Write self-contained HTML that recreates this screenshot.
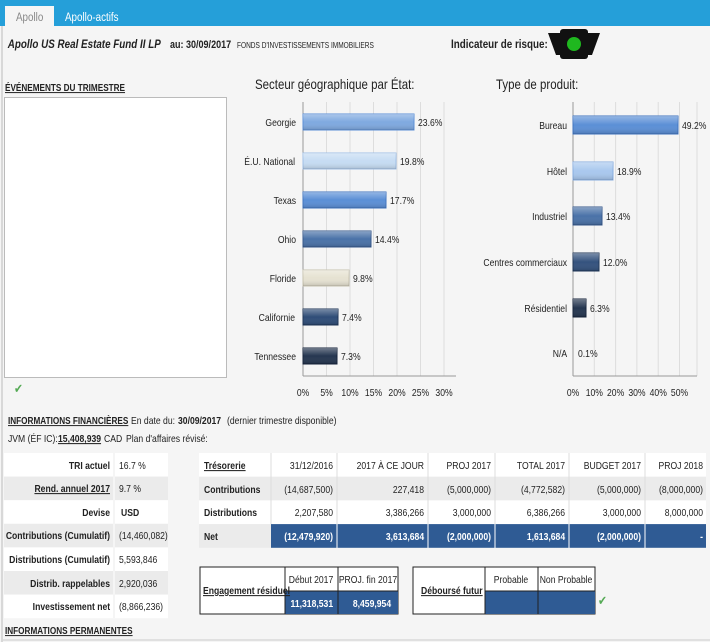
<!DOCTYPE html>
<html><head><meta charset="utf-8"><style>
body{margin:0;background:#f5f5f5;}
svg{display:block;font-family:"Liberation Sans",sans-serif;}
text{font-size:10.5px;fill:#222;transform-box:fill-box;transform-origin:left center;transform:scaleX(.82)}
text.r{text-anchor:end;transform-origin:right center}
text.m{text-anchor:middle;transform-origin:center center}
.b{font-weight:bold}
.w{fill:#fff;font-weight:bold}
</style></head><body>
<svg width="710" height="642" viewBox="0 0 710 642">
<defs>
<linearGradient id="g" x1="0" y1="0" x2="0" y2="1"><stop offset="0" stop-color="#fff" stop-opacity=".35"/><stop offset=".5" stop-color="#fff" stop-opacity="0"/><stop offset="1" stop-color="#000" stop-opacity=".15"/></linearGradient>
</defs>
<rect x="0" y="0" width="710" height="642" fill="#f5f5f5"/>
<rect x="0" y="0" width="710" height="26" fill="#259fd9"/>
<rect x="5" y="6" width="49" height="20" fill="#f5f5f5"/>
<text x="16" y="21" style="font-size:12px;fill:#888">Apollo</text>
<text x="65" y="21" style="font-size:12px;fill:#fff">Apollo-actifs</text>
<line x1="2" y1="26" x2="2" y2="642" stroke="#bbb"/>
<text x="8" y="48" class="b" style="font-size:12px;font-style:italic">Apollo US Real Estate Fund II LP</text>
<text x="170" y="48" class="b" style="font-size:11px">au: 30/09/2017</text>
<text x="237" y="48" style="font-size:8px">FONDS D'INVESTISSEMENTS IMMOBILIERS</text>
<text x="451" y="48" class="b" style="font-size:12px">Indicateur de risque:</text>
<path d="M548 33 h14 v22 h-6 z M586 33 h14 l-8 22 h-6 z" fill="#111"/>
<rect x="560" y="29" width="28" height="30" rx="3" fill="#111"/>
<circle cx="574" cy="44" r="7" fill="#1fb81f"/>
<text x="5" y="91" class="b" style="font-size:10px;text-decoration:underline">ÉVÉNEMENTS DU TRIMESTRE</text>
<text x="255" y="89" style="font-size:14px">Secteur géographique par État:</text>
<text x="496" y="89" style="font-size:14px">Type de produit:</text>
<rect x="4.5" y="97.5" width="222" height="280" fill="#fff" stroke="#bbb"/>
<text x="14" y="393" style="font-size:13px;fill:#5a5">✔</text>

<g stroke="#ddd">
<line x1="326.5" y1="102" x2="326.5" y2="376"/><line x1="350" y1="102" x2="350" y2="376"/><line x1="373.5" y1="102" x2="373.5" y2="376"/><line x1="397" y1="102" x2="397" y2="376"/><line x1="420.5" y1="102" x2="420.5" y2="376"/><line x1="444" y1="102" x2="444" y2="376"/>
</g>
<line x1="303" y1="102" x2="303" y2="376" stroke="#999"/>
<line x1="303" y1="376" x2="456" y2="376" stroke="#999"/>
<g>
<rect x="303" y="114" width="111" height="16" fill="#7fa9e0" stroke="#5b8fd6"/><rect x="303" y="114" width="111" height="16" fill="url(#g)"/>
<rect x="303" y="153" width="93" height="16" fill="#c6dcf3" stroke="#9fbfe6"/><rect x="303" y="153" width="93" height="16" fill="url(#g)"/>
<rect x="303" y="192" width="83" height="16" fill="#5b8fd6" stroke="#3f74c0"/><rect x="303" y="192" width="83" height="16" fill="url(#g)"/>
<rect x="303" y="231" width="68" height="16" fill="#4a72a8" stroke="#35578a"/><rect x="303" y="231" width="68" height="16" fill="url(#g)"/>
<rect x="303" y="270" width="46" height="16" fill="#e6e2d2" stroke="#c8c3b0"/><rect x="303" y="270" width="46" height="16" fill="url(#g)"/>
<rect x="303" y="309" width="35" height="16" fill="#2f4d78" stroke="#1e3556"/><rect x="303" y="309" width="35" height="16" fill="url(#g)"/>
<rect x="303" y="348" width="34" height="16" fill="#253650" stroke="#15223a"/><rect x="303" y="348" width="34" height="16" fill="url(#g)"/>
</g>
<text x="296" y="126" class="r">Georgie</text><text x="295" y="165" class="r">É.U. National</text><text x="296" y="204" class="r">Texas</text><text x="296" y="243" class="r">Ohio</text><text x="296" y="282" class="r">Floride</text><text x="295" y="321" class="r">Californie</text><text x="296" y="360" class="r">Tennessee</text>
<text x="418" y="126">23.6%</text><text x="400" y="165">19.8%</text><text x="390" y="204">17.7%</text><text x="375" y="243">14.4%</text><text x="353" y="282">9.8%</text><text x="342" y="321">7.4%</text><text x="341" y="360">7.3%</text>
<text x="303" y="396" class="m">0%</text><text x="326.5" y="396" class="m">5%</text><text x="350" y="396" class="m">10%</text><text x="373.5" y="396" class="m">15%</text><text x="397" y="396" class="m">20%</text><text x="420.5" y="396" class="m">25%</text><text x="444" y="396" class="m">30%</text>

<g stroke="#ddd">
<line x1="594.3" y1="102" x2="594.3" y2="376"/><line x1="615.6" y1="102" x2="615.6" y2="376"/><line x1="636.9" y1="102" x2="636.9" y2="376"/><line x1="658.2" y1="102" x2="658.2" y2="376"/><line x1="679.5" y1="102" x2="679.5" y2="376"/><line x1="697" y1="102" x2="697" y2="376"/>
</g>
<line x1="573" y1="102" x2="573" y2="376" stroke="#999"/>
<line x1="573" y1="376" x2="697" y2="376" stroke="#999"/>
<rect x="573" y="116" width="105" height="18" fill="#5b8fd6" stroke="#3f74c0"/><rect x="573" y="116" width="105" height="18" fill="url(#g)"/>
<rect x="573" y="162" width="40" height="18" fill="#a9c8ee" stroke="#86ade0"/><rect x="573" y="162" width="40" height="18" fill="url(#g)"/>
<rect x="573" y="207" width="29" height="18" fill="#4a72a8" stroke="#35578a"/><rect x="573" y="207" width="29" height="18" fill="url(#g)"/>
<rect x="573" y="253" width="26" height="18" fill="#34527e" stroke="#1e3556"/><rect x="573" y="253" width="26" height="18" fill="url(#g)"/>
<rect x="573" y="299" width="13" height="18" fill="#253650" stroke="#15223a"/><rect x="573" y="299" width="13" height="18" fill="url(#g)"/>
<text x="567" y="129" class="r">Bureau</text><text x="567" y="175" class="r">Hôtel</text><text x="567" y="220" class="r">Industriel</text><text x="567" y="266" class="r">Centres commerciaux</text><text x="567" y="312" class="r">Résidentiel</text><text x="567" y="357" class="r">N/A</text>
<text x="682" y="129">49.2%</text><text x="617" y="175">18.9%</text><text x="606" y="220">13.4%</text><text x="603" y="266">12.0%</text><text x="590" y="312">6.3%</text><text x="578" y="357">0.1%</text>
<text x="573" y="396" class="m">0%</text><text x="594.3" y="396" class="m">10%</text><text x="615.6" y="396" class="m">20%</text><text x="636.9" y="396" class="m">30%</text><text x="658.2" y="396" class="m">40%</text><text x="679.5" y="396" class="m">50%</text>

<text x="8" y="424" class="b" style="font-size:10px;text-decoration:underline">INFORMATIONS FINANCIÈRES</text>
<text x="131" y="424">En date du:</text><text x="178" y="424" class="b">30/09/2017</text><text x="227" y="424">(dernier trimestre disponible)</text>
<text x="8" y="442">JVM (ÉF IC):</text><text x="58" y="442" class="b" style="text-decoration:underline">15,408,939</text><text x="104" y="442">CAD</text><text x="126" y="442">Plan d'affaires révisé:</text>

<rect x="4" y="453" width="164" height="23.6" fill="#fff"/>
<rect x="4" y="476.6" width="164" height="23.6" fill="#ebebeb"/>
<rect x="4" y="500.2" width="164" height="23.6" fill="#fff"/>
<rect x="4" y="523.8" width="164" height="23.6" fill="#ebebeb"/>
<rect x="4" y="547.4" width="164" height="23.6" fill="#fff"/>
<rect x="4" y="571" width="164" height="23.6" fill="#ebebeb"/>
<rect x="4" y="594.6" width="164" height="23.6" fill="#fff"/>
<line x1="114" y1="453" x2="114" y2="618" stroke="#f5f5f5" stroke-width="2"/>
<text x="110" y="469" class="r b">TRI actuel</text><text x="119" y="469">16.7 %</text>
<text x="110" y="492" class="r b" style="text-decoration:underline">Rend. annuel 2017</text><text x="119" y="492">9.7 %</text>
<text x="110" y="516" class="r b">Devise</text><text x="121" y="516" class="b">USD</text>
<text x="110" y="539" class="r b">Contributions (Cumulatif)</text><text x="119" y="539">(14,460,082)</text>
<text x="110" y="563" class="r b">Distributions (Cumulatif)</text><text x="119" y="563">5,593,846</text>
<text x="110" y="587" class="r b">Distrib. rappelables</text><text x="119" y="587">2,920,036</text>
<text x="110" y="610" class="r b">Investissement net</text><text x="119" y="610">(8,866,236)</text>

<rect x="199" y="453" width="507" height="23.7" fill="#fff"/>
<rect x="199" y="476.7" width="507" height="23.7" fill="#ebebeb"/>
<rect x="199" y="500.4" width="507" height="23.7" fill="#fff"/>
<rect x="199" y="524.1" width="72" height="23.7" fill="#ebebeb"/>
<rect x="271" y="524.1" width="435" height="23.7" fill="#2f5b94"/>
<g stroke="#ddd"><line x1="271" y1="453" x2="271" y2="524"/><line x1="337" y1="453" x2="337" y2="524"/><line x1="428" y1="453" x2="428" y2="524"/><line x1="495" y1="453" x2="495" y2="524"/><line x1="569" y1="453" x2="569" y2="524"/><line x1="645" y1="453" x2="645" y2="524"/></g>
<g stroke="#fff"><line x1="337" y1="524" x2="337" y2="548"/><line x1="428" y1="524" x2="428" y2="548"/><line x1="495" y1="524" x2="495" y2="548"/><line x1="569" y1="524" x2="569" y2="548"/><line x1="645" y1="524" x2="645" y2="548"/></g>
<text x="204" y="469" class="b" style="text-decoration:underline">Trésorerie</text>
<text x="333" y="469" class="r">31/12/2016</text><text x="424" y="469" class="r">2017 À CE JOUR</text><text x="491" y="469" class="r">PROJ 2017</text><text x="565" y="469" class="r">TOTAL 2017</text><text x="641" y="469" class="r">BUDGET 2017</text><text x="703" y="469" class="r">PROJ 2018</text>
<text x="204" y="493" class="b">Contributions</text>
<text x="333" y="493" class="r">(14,687,500)</text><text x="424" y="493" class="r">227,418</text><text x="491" y="493" class="r">(5,000,000)</text><text x="565" y="493" class="r">(4,772,582)</text><text x="641" y="493" class="r">(5,000,000)</text><text x="703" y="493" class="r">(8,000,000)</text>
<text x="204" y="516" class="b">Distributions</text>
<text x="333" y="516" class="r">2,207,580</text><text x="424" y="516" class="r">3,386,266</text><text x="491" y="516" class="r">3,000,000</text><text x="565" y="516" class="r">6,386,266</text><text x="641" y="516" class="r">3,000,000</text><text x="703" y="516" class="r">8,000,000</text>
<text x="204" y="540" class="b">Net</text>
<text x="333" y="540" class="r w">(12,479,920)</text><text x="424" y="540" class="r w">3,613,684</text><text x="491" y="540" class="r w">(2,000,000)</text><text x="565" y="540" class="r w">1,613,684</text><text x="641" y="540" class="r w">(2,000,000)</text><text x="703" y="540" class="r w">-</text>

<rect x="200" y="567" width="198" height="47" fill="#fff" stroke="#222"/>
<rect x="285" y="591" width="113" height="23" fill="#2f5b94"/>
<g stroke="#222"><line x1="285" y1="567" x2="285" y2="614"/><line x1="338" y1="567" x2="338" y2="614"/><line x1="285" y1="591" x2="398" y2="591"/></g>
<text x="203" y="594" class="b" style="text-decoration:underline">Engagement résiduel</text>
<text x="311" y="583" class="m">Début 2017</text><text x="368" y="583" class="m">PROJ. fin 2017</text>
<text x="333" y="607" class="r w">11,318,531</text><text x="391" y="607" class="r w">8,459,954</text>
<rect x="413" y="567" width="182" height="47" fill="#fff" stroke="#222"/>
<rect x="485" y="591" width="110" height="23" fill="#2f5b94"/>
<g stroke="#222"><line x1="485" y1="567" x2="485" y2="614"/><line x1="538" y1="567" x2="538" y2="614"/><line x1="485" y1="591" x2="595" y2="591"/></g>
<text x="421" y="594" class="b" style="text-decoration:underline">Déboursé futur</text>
<text x="511" y="583" class="m">Probable</text><text x="566" y="583" class="m">Non Probable</text>
<text x="598" y="605" style="font-size:13px;fill:#5a5">✔</text>

<text x="5" y="634" class="b" style="font-size:10px;text-decoration:underline">INFORMATIONS PERMANENTES</text>
<line x1="3" y1="640" x2="710" y2="640" stroke="#ccc"/>
</svg>
</body></html>
